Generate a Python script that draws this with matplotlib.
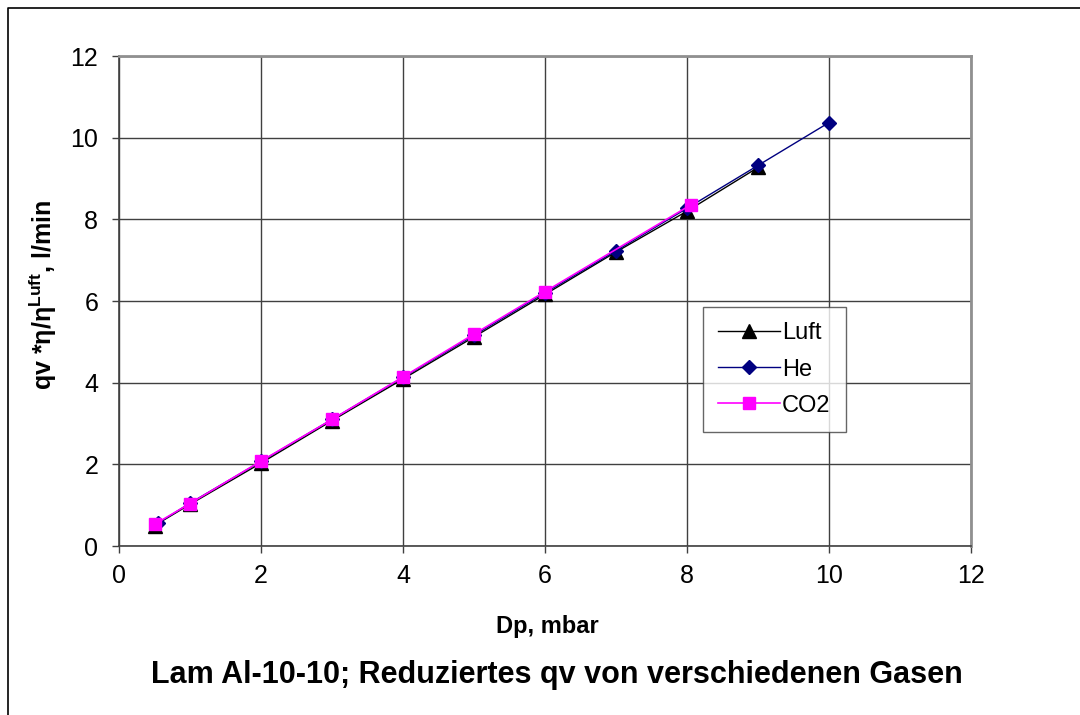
import matplotlib
matplotlib.use("Agg")
import matplotlib.pyplot as plt
from matplotlib.lines import Line2D

plt.rcParams['font.family'] = ['Liberation Sans', 'DejaVu Sans']
plt.rcParams['mathtext.fontset'] = 'custom'
plt.rcParams['mathtext.rm'] = 'Liberation Sans:bold'
plt.rcParams['mathtext.bf'] = 'Liberation Sans:bold'

# Data
luft_x = [0.5, 1, 2, 3, 4, 5, 6, 7, 8, 9]
luft_y = [0.50, 1.02, 2.03, 3.07, 4.09, 5.12, 6.16, 7.20, 8.20, 9.27]
he_x = [0.55, 1, 2, 3, 4, 5, 6, 7, 8, 9, 10]
he_y = [0.56, 1.05, 2.07, 3.10, 4.13, 5.16, 6.20, 7.23, 8.27, 9.32, 10.37]
co2_x = [0.5, 1, 2, 3, 4, 5, 6, 8.05]
co2_y = [0.53, 1.04, 2.08, 3.10, 4.14, 5.19, 6.23, 8.35]

xticks = [0, 2, 4, 6, 8, 10, 12]
yticks = [0, 2, 4, 6, 8, 10, 12]

W, H = 1080, 715
fig = plt.figure(figsize=(W / 100, H / 100), dpi=100)
ax = fig.add_axes([119 / W, 1 - 546 / H, (971 - 119) / W, (546 - 56) / H])

ax.plot(luft_x, luft_y, color='black', lw=1.0, marker='^', ms=10, mfc='black', mec='black', label='Luft', zorder=3)
ax.plot(he_x, he_y, color='#000080', lw=1.0, marker='D', ms=7.5, mfc='#000080', mec='#000080', label='He', zorder=4)
ax.plot(co2_x, co2_y, color='#FF00FF', lw=1.2, marker='s', ms=9, mfc='#FF00FF', mec='#FF00FF', label='CO2', zorder=5)

ax.set_xlim(0, 12)
ax.set_ylim(0, 12)
ax.set_xticks(xticks)
ax.set_yticks(yticks)
ax.tick_params(axis='both', labelsize=18, direction='out', length=5, width=1, color='#404040')
ax.tick_params(axis='y', pad=10)
ax.tick_params(axis='x', pad=8)
ax.grid(True, color='#404040', lw=1.0)
ax.set_axisbelow(True)
for s in ['left', 'bottom']:
    ax.spines[s].set_color('#404040')
    ax.spines[s].set_linewidth(1.2)
for s in ['top', 'right']:
    ax.spines[s].set_color('#909090')
    ax.spines[s].set_linewidth(2.0)

fig.text(547 / W, 1 - 627 / H, 'Dp, mbar', ha='center', va='center', fontsize=17, fontweight='bold')
fig.text(43 / W, 1 - 295 / H, r'qv *η/η$^{\mathrm{Luft}}$, l/min', ha='center', va='center',
         rotation=90, fontsize=18, fontweight='bold')

leg = ax.legend(loc='upper left', bbox_to_anchor=((703 - 119) / (971 - 119), (546 - 307) / (546 - 56)),
                fontsize=17, frameon=True, fancybox=False, edgecolor='#404040', borderpad=0.65,
                handlelength=2.6, labelspacing=0.6, handletextpad=0.1, borderaxespad=0)
leg.get_frame().set_linewidth(1.0)

fig.text(557 / W, 1 - 675 / H, 'Lam Al-10-10; Reduziertes qv von verschiedenen Gasen',
         ha='center', va='center', fontsize=22, fontweight='bold')

# outer frame (left and top visible)
fig.add_artist(Line2D([8 / W, 8 / W, 1], [0, 1 - 8 / H, 1 - 8 / H], transform=fig.transFigure,
                      color='black', lw=1.2))

fig.savefig('out.png', dpi=100)
